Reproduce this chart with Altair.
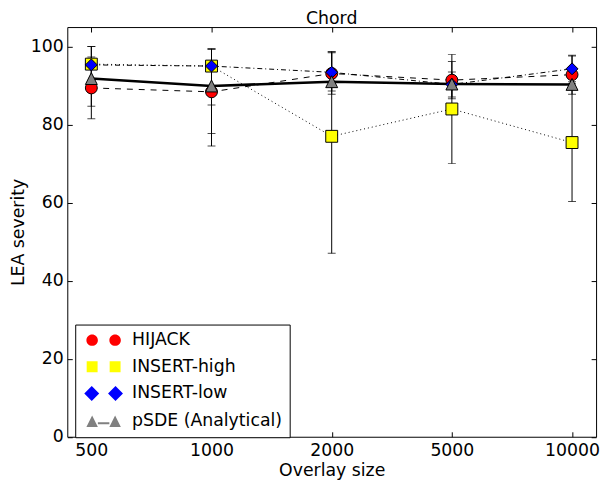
import altair as alt
import pandas as pd

overlay_sizes = ["500", "1000", "2000", "5000", "10000"]
series_names = ["HIJACK", "INSERT-high", "INSERT-low", "pSDE (Analytical)"]

hijack = [89.4, 88.4, 93.1, 91.4, 92.8]
hijack_lo = [81.5, 77.7, 87.8, 86.6, 87.8]
hijack_hi = [97.3, 99.4, 98.4, 96.2, 97.8]

insert_high = [95.5, 95.0, 77.0, 84.0, 75.4]
insert_high_lo = [84.7, 74.5, 47.0, 70.0, 60.3]
insert_high_hi = [100.0, 99.4, 98.7, 98.0, 90.5]

insert_low = [95.3, 95.0, 93.4, 90.3, 94.3]
insert_low_lo = [90.6, 85.0, 88.6, 87.1, 91.0]
insert_low_hi = [100.0, 99.4, 98.7, 93.5, 97.6]

p_sde = [91.8, 89.9, 91.0, 90.4, 90.3]
p_sde_lo = [None, None, None, None, None]
p_sde_hi = [None, None, None, None, None]

marker_fill = ["#ff0000", "#ffff00", "#0000ff", "#808080"]
marker_shape = ["circle", "square", "diamond", "M0,-1L-1,1L1,1Z"]
marker_size = [145, 145, 270, 155]
line_dash = [[6, 6], [1, 3], [5, 3, 1, 3], [1, 0]]
legend_paths = [
    "M-3,0A1,1,0,1,1,-1,0A1,1,0,1,1,-3,0Z M1,0A1,1,0,1,1,3,0A1,1,0,1,1,1,0Z",
    "M-2.95,-0.95H-1.05V0.95H-2.95Z M1.05,-0.95H2.95V0.95H1.05Z",
    "M-3.37,0L-2.07,-1.3L-0.77,0L-2.07,1.3Z M0.77,0L2.07,-1.3L3.37,0L2.07,1.3Z",
    "M-2,-1L-3,1L-1,1Z M2,-1L1,1L3,1Z M-1,0.2H1V0.55H-1Z",
]

rows = []
for name, vals, los, his in [
    (series_names[0], hijack, hijack_lo, hijack_hi),
    (series_names[1], insert_high, insert_high_lo, insert_high_hi),
    (series_names[2], insert_low, insert_low_lo, insert_low_hi),
    (series_names[3], p_sde, p_sde_lo, p_sde_hi),
]:
    for i, (v, lo, hi) in enumerate(zip(vals, los, his)):
        rows.append({"idx": i, "size": overlay_sizes[i], "series": name,
                     "value": v, "lo": lo, "hi": hi})
df = pd.DataFrame(rows)

FONT = "DejaVu Sans"
FS = 17.5
label_expr = "[" + ",".join("'%s'" % s for s in overlay_sizes) + "][datum.value]"
xscale = alt.Scale(domain=[-0.2, 4.2], nice=False, zero=False)
yscale = alt.Scale(domain=[0, 105], nice=False, zero=True)
yticks = [0, 20, 40, 60, 80, 100]

base = alt.Chart(df)
thin = base.transform_filter(alt.datum.series != series_names[3])
sde = base.transform_filter(alt.datum.series == series_names[3])

lines = thin.mark_line(color="black", strokeWidth=1, clip=True).encode(
    x=alt.X("idx:Q", scale=xscale,
            axis=alt.Axis(orient="bottom", values=list(range(5)), labelExpr=label_expr,
                          title="Overlay size", offset=-5, tickSize=5, labelPadding=5,
                          titlePadding=3, labelFlush=False, domain=False)),
    y=alt.Y("value:Q", scale=yscale,
            axis=alt.Axis(orient="left", values=yticks, title="LEA severity",
                          offset=-5, tickSize=5, labelPadding=4, titlePadding=3,
                          domain=False)),
    detail="series:N",
    strokeDash=alt.StrokeDash("series:N", scale=alt.Scale(domain=series_names, range=line_dash), legend=None),
)

sde_line = sde.mark_line(color="black", strokeWidth=2.6, clip=True).encode(
    x=alt.X("idx:Q", axis=None),
    y=alt.Y("value:Q", axis=None),
)

err = base.mark_rule(color="black", strokeWidth=1, clip=True).encode(
    x=alt.X("idx:Q", axis=None),
    y=alt.Y("lo:Q", axis=None),
    y2="hi:Q",
)
cap_lo = base.mark_tick(orient="horizontal", size=8, thickness=1, color="black", clip=True).encode(
    x=alt.X("idx:Q", axis=None),
    y=alt.Y("lo:Q", axis=None),
)
cap_hi = base.mark_tick(orient="horizontal", size=8, thickness=1, color="black", clip=True).encode(
    x=alt.X("idx:Q", axis=None),
    y=alt.Y("hi:Q", axis=None),
)

points = base.mark_point(filled=True, opacity=1, stroke="black", strokeWidth=1, clip=True).encode(
    x=alt.X("idx:Q", axis=alt.Axis(orient="top", values=list(range(5)), labels=False, title=None,
                                   offset=-5, tickSize=5, domain=False)),
    y=alt.Y("value:Q", axis=alt.Axis(orient="right", values=yticks, labels=False, title=None,
                                     offset=-5, tickSize=5, domain=False)),
    shape=alt.Shape("series:N", scale=alt.Scale(domain=series_names, range=marker_shape), legend=None),
    fill=alt.Fill("series:N", scale=alt.Scale(domain=series_names, range=marker_fill), legend=None),
    size=alt.Size("series:N", scale=alt.Scale(domain=series_names, range=marker_size), legend=None),
)

leg = dict(title=None, orient="none", legendX=8, legendY=301, symbolSize=135,
           symbolStrokeColor="black", symbolStrokeWidth=1, labelFontSize=FS, labelFont=FONT,
           labelColor="black", padding=7, symbolOffset=13, labelOffset=20, rowPadding=8,
           strokeColor="black", fillColor="white", cornerRadius=0, labelLimit=400)

legend_layer = base.transform_filter("false").mark_point(
    filled=True, opacity=1, stroke="black", strokeWidth=1).encode(
    x=alt.X("idx:Q", axis=None),
    y=alt.Y("value:Q", axis=None),
    shape=alt.Shape("series:N", scale=alt.Scale(domain=series_names, range=legend_paths),
                    legend=alt.Legend(**leg)),
    fill=alt.Fill("series:N", scale=alt.Scale(domain=series_names, range=marker_fill),
                  legend=alt.Legend(**leg)),
)

chart = alt.layer(lines, sde_line, err, cap_lo, cap_hi, points, legend_layer).resolve_scale(
    shape="independent", fill="independent", size="independent"
).resolve_axis(
    x="independent", y="independent"
).properties(
    width=535, height=414.5,
    title=alt.TitleParams("Chord", font=FONT, fontSize=FS, fontWeight="normal", color="black", offset=-1),
    autosize=alt.AutoSizeParams(type="none"),
    padding={"left": 60, "top": 16.5, "right": 7, "bottom": 43},
).configure_view(
    stroke="black", strokeWidth=1
).configure_axis(
    labelFont=FONT, titleFont=FONT, labelFontSize=FS, titleFontSize=FS,
    labelColor="black", titleColor="black", titleFontWeight="normal",
    tickColor="black", grid=False,
)

chart.save("out.html", embed_options={"renderer": "svg", "actions": False})
